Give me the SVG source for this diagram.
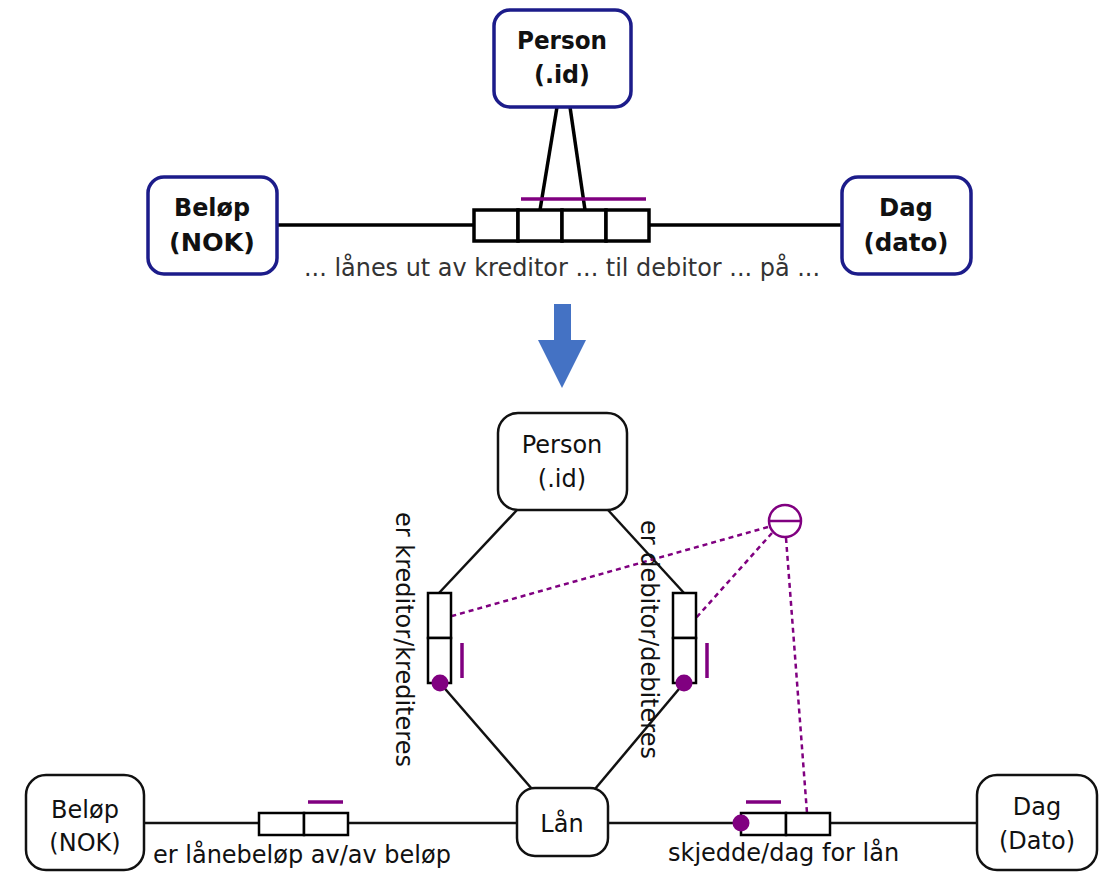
<svg xmlns="http://www.w3.org/2000/svg" width="1112" height="872" viewBox="0 0 1112 872">
<style>
.tb{fill:#fff;stroke:#1c1c8a;stroke-width:3.5}
.tt{font-family:"DejaVu Sans",Verdana,sans-serif;font-weight:bold;font-size:25px;fill:#111;text-anchor:middle}
.bb{fill:#fff;stroke:#111;stroke-width:2.5}
.bt{font-family:"DejaVu Sans",Verdana,sans-serif;font-size:24px;fill:#111;text-anchor:middle}
.lt{font-family:"DejaVu Sans",Verdana,sans-serif;font-size:24px;fill:#111}
.ln{stroke:#111;stroke-width:2.5;fill:none}
.ln3{stroke:#000;stroke-width:3.5;fill:none}
.cell{fill:#fff;stroke:#000;stroke-width:2.5}
.cell3{fill:#fff;stroke:#000;stroke-width:3.5}
.uq{stroke:#800080;stroke-width:3.5}
.dot{fill:#800080}
.dash{stroke:#800080;stroke-width:2.5;stroke-dasharray:5 4;fill:none}
</style>

<!-- TOP: connectors -->
<g id="top-connectors">
  <line class="ln3" x1="277" y1="225" x2="474" y2="225"/>
  <line class="ln3" x1="649" y1="225" x2="842" y2="225"/>
  <line class="ln3" x1="557" y1="107" x2="540" y2="210"/>
  <line class="ln3" x1="570" y1="107" x2="585" y2="210"/>
</g>

<g id="top-person">
  <rect class="tb" x="494" y="10" width="137" height="97" rx="16"/>
  <text class="tt" x="562" y="49" textLength="90" lengthAdjust="spacingAndGlyphs">Person</text>
  <text class="tt" x="562" y="83" textLength="56" lengthAdjust="spacingAndGlyphs">(.id)</text>
</g>
<g id="top-belop">
  <rect class="tb" x="148" y="177" width="129" height="97" rx="16"/>
  <text class="tt" x="212" y="216" textLength="76" lengthAdjust="spacingAndGlyphs">Beløp</text>
  <text class="tt" x="212" y="251" textLength="86" lengthAdjust="spacingAndGlyphs">(NOK)</text>
</g>
<g id="top-dag">
  <rect class="tb" x="842" y="177" width="129" height="97" rx="16"/>
  <text class="tt" x="906" y="216" textLength="54" lengthAdjust="spacingAndGlyphs">Dag</text>
  <text class="tt" x="906" y="251" textLength="85" lengthAdjust="spacingAndGlyphs">(dato)</text>
</g>
<g id="top-fact">
  <rect class="cell3" x="474" y="210" width="44" height="31"/>
  <rect class="cell3" x="518" y="210" width="44" height="31"/>
  <rect class="cell3" x="562" y="210" width="44" height="31"/>
  <rect class="cell3" x="606" y="210" width="43" height="31"/>
  <line class="uq" x1="521" y1="199" x2="646" y2="199"/>
  <text font-family="DejaVu Sans, Verdana, sans-serif" font-size="25" fill="#333" x="304" y="276" textLength="516" lengthAdjust="spacingAndGlyphs">... lånes ut av kreditor ... til debitor ... på ...</text>
</g>

<!-- Arrow -->
<g id="arrow">
  <polygon points="554,304 571,304 571,340 586,340 562,388 538,340 554,340" fill="#4472c4"/>
</g>

<!-- BOTTOM connectors -->
<g id="connectors">
  <line class="ln" x1="517" y1="510" x2="439" y2="593"/>
  <line class="ln" x1="608" y1="510" x2="684" y2="593"/>
  <line class="ln" x1="440" y1="683" x2="532" y2="789"/>
  <line class="ln" x1="684" y1="683" x2="595" y2="789"/>
  <line class="ln" x1="144" y1="823" x2="259" y2="823"/>
  <line class="ln" x1="348" y1="823" x2="517" y2="823"/>
  <line class="ln" x1="608" y1="823" x2="741" y2="823"/>
  <line class="ln" x1="830" y1="823" x2="977" y2="823"/>
  <line class="dash" x1="768" y1="527" x2="452" y2="616"/>
  <line class="dash" x1="772" y1="533" x2="696" y2="618"/>
  <line class="dash" x1="786" y1="538" x2="807" y2="813"/>
</g>

<g id="person">
  <rect class="bb" x="498" y="413" width="129" height="97" rx="20"/>
  <text class="bt" x="562" y="453">Person</text>
  <text class="bt" x="562" y="487">(.id)</text>
</g>
<g id="belop">
  <rect class="bb" x="26" y="775" width="118" height="95" rx="20"/>
  <text class="bt" x="85" y="818">Beløp</text>
  <text class="bt" x="85" y="851">(NOK)</text>
</g>
<g id="lan">
  <rect class="bb" x="517" y="788" width="91" height="68" rx="18"/>
  <text class="bt" x="562" y="832">Lån</text>
</g>
<g id="dag">
  <rect class="bb" x="977" y="775" width="120" height="95" rx="20"/>
  <text class="bt" x="1037" y="815">Dag</text>
  <text class="bt" x="1037" y="849">(Dato)</text>
</g>

<g id="fact-kreditor">
  <rect class="cell" x="428" y="593" width="23" height="45"/>
  <rect class="cell" x="428" y="638" width="23" height="45"/>
  <circle class="dot" cx="440" cy="683" r="8.5"/>
  <line class="uq" x1="462" y1="643" x2="462" y2="678"/>
  <text class="lt" transform="translate(396,512) rotate(90)">er kreditor/krediteres</text>
</g>
<g id="fact-debitor">
  <rect class="cell" x="673" y="593" width="23" height="45"/>
  <rect class="cell" x="673" y="638" width="23" height="45"/>
  <circle class="dot" cx="684" cy="683" r="8.5"/>
  <line class="uq" x1="707" y1="643" x2="707" y2="678"/>
  <text class="lt" transform="translate(641,520) rotate(90)">er debitor/debiteres</text>
</g>
<g id="fact-belop">
  <rect class="cell" x="259" y="813" width="45" height="22"/>
  <rect class="cell" x="304" y="813" width="44" height="22"/>
  <line class="uq" x1="308" y1="802" x2="343" y2="802"/>
  <text class="lt" x="153" y="863">er lånebeløp av/av beløp</text>
</g>
<g id="fact-dag">
  <rect class="cell" x="741" y="813" width="45" height="22"/>
  <rect class="cell" x="786" y="813" width="44" height="22"/>
  <circle class="dot" cx="741" cy="823" r="8.5"/>
  <line class="uq" x1="746" y1="802" x2="781" y2="802"/>
  <text class="lt" x="668" y="861">skjedde/dag for lån</text>
</g>

<g id="exclusion">
  <circle cx="785" cy="521" r="16" fill="#fff" stroke="#800080" stroke-width="2.5"/>
  <line x1="769" y1="521" x2="801" y2="521" stroke="#800080" stroke-width="2.5"/>
</g>
</svg>
